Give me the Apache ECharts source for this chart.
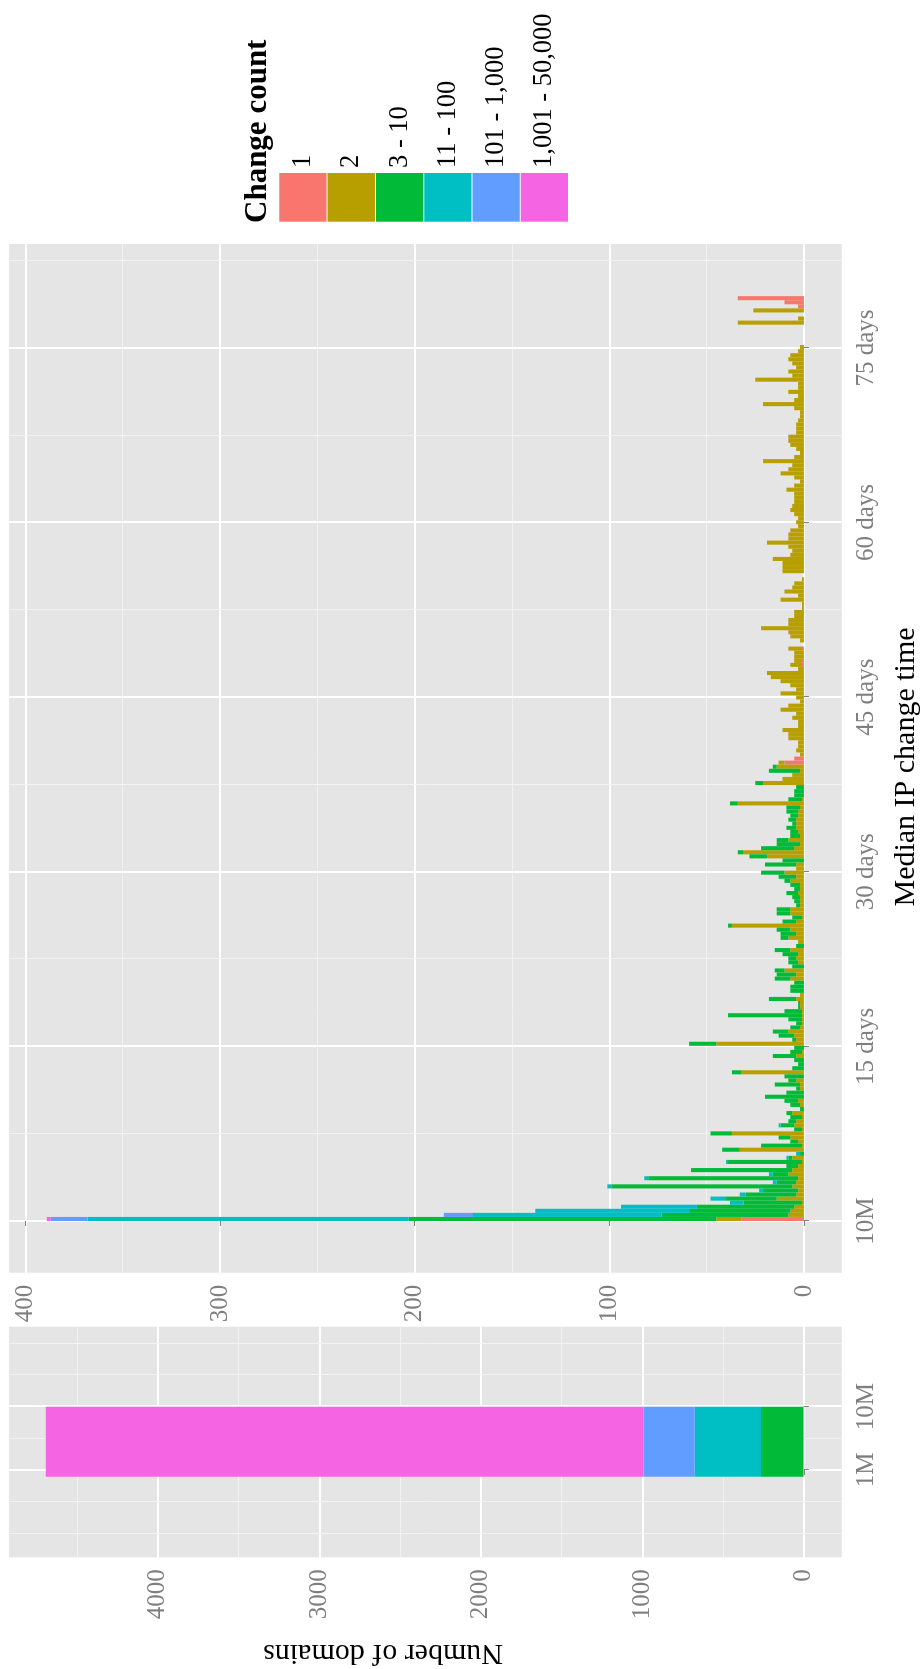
<!DOCTYPE html>
<html>
<head>
<meta charset="utf-8">
<script src="https://cdn.jsdelivr.net/npm/echarts@6/dist/echarts.min.js"></script>
<style>
  html, body { margin: 0; padding: 0; background: #fff; overflow: hidden; }
  #page { position: absolute; left: 0; top: 0; width: 922px; height: 1669px; overflow: hidden; }
  /* The figure is laid out in landscape and turned a quarter turn anticlockwise. */
  #chart { position: absolute; left: 0; top: 0; width: 1669px; height: 922px;
           transform-origin: 0 0; transform: translate(0px, 1669px) rotate(-90deg); }
</style>
</head>
<body>
<div id="page"><div id="chart"></div></div>
<script>
// ---- change-count classes --------------------------------------------------
const levels = ['1', '2', '3 - 10', '11 - 100', '101 - 1,000', '1,001 - 50,000'];
const levelColors = ['#F8766D', '#B79F00', '#00BA38', '#00BFC4', '#619CFF', '#F564E3'];

// ---- panel A: domains whose median change time is under 10 minutes ----------
// x is log10(minutes); the single bin runs from ~47 s to 10 minutes
const shortBinEdges = [-0.106, 1];
const shortCounts = [5, 0, 261, 409, 317, 3701];
const shortTicks = [0, 1];
const shortTickLabels = ['1M', '10M'];

// ---- panel B: 8.4-hour bins of median change time, 10 minutes to ~80 days ---
const binDays = 0.35;
const longTicks = [0, 15, 30, 45, 60, 75];
const longTickLabels = ['10M', '15 days', '30 days', '45 days', '60 days', '75 days'];

const count1 = [
  32,0,0,0,0,0,0,0,0,0,0,0,0,0,0,
  0,0,0,0,0,0,0,0,0,0,0,0,0,0,0,
  0,0,0,0,0,0,0,0,0,0,0,0,0,0,0,
  0,0,0,0,0,0,0,0,0,0,0,0,0,0,0,
  0,0,0,0,0,0,0,0,0,0,0,0,0,0,0,
  0,0,0,0,0,0,0,0,0,0,0,0,0,0,0,
  0,0,0,0,0,0,0,0,0,0,0,0,0,0,0,
  0,0,0,0,0,0,0,10,5,0,0,0,0,0,0,
  0,0,0,0,0,0,0,0,0,0,0,0,0,0,0,
  0,1,1,0,0,1,0,0,0,0,0,0,0,0,0,
  0,0,0,0,0,0,0,0,0,0,0,0,0,0,0,
  0,0,0,0,0,0,0,0,0,0,0,0,0,0,0,
  0,0,0,0,0,0,0,0,0,0,0,0,0,0,0,
  0,0,0,0,0,0,0,0,0,0,0,0,0,0,0,
  0,0,0,0,0,0,0,0,0,0,0,0,0,0,3,
  10,34
];
const count2 = [
  13,8,7,5,1,14,4,3,6,4,3,8,6,3,1,
  6,0,33,1,3,7,37,1,5,4,1,6,0,2,3,
  0,0,2,2,4,0,32,0,0,0,4,1,0,45,4,
  5,8,2,1,1,1,1,2,2,4,2,0,0,0,7,
  4,10,0,3,4,3,7,0,3,8,4,7,37,4,1,
  7,7,2,2,2,3,2,2,7,4,10,4,4,0,19,
  31,5,2,8,2,3,4,4,4,3,3,2,34,1,0,
  0,0,21,11,6,2,14,3,0,2,4,3,3,8,8,
  11,3,3,6,4,12,8,2,4,12,4,7,12,17,19,
  3,6,4,5,5,7,0,2,7,8,22,8,8,5,5,
  1,1,12,3,10,6,5,1,0,11,11,11,16,7,6,
  8,19,8,8,7,3,4,3,5,7,6,5,5,5,9,
  5,2,5,12,8,6,21,5,2,4,7,8,8,4,4,
  4,3,2,2,5,21,5,3,8,3,3,25,6,8,4,
  6,8,7,3,2,0,0,0,0,0,34,3,0,26,0,
  0,0
];
const count3to10 = [
  158,65,52,50,30,26,26,18,93,10,77,8,52,6,38,
  2,2,9,21,4,6,11,4,7,4,6,3,2,5,7,
  20,9,2,13,4,10,5,6,3,5,12,6,5,14,2,
  8,8,5,3,7,38,9,1,1,14,0,7,7,5,8,
  10,5,6,5,4,8,8,4,0,4,8,7,2,7,5,
  7,7,2,3,4,6,3,5,3,9,12,0,16,11,9,
  3,17,12,6,5,4,5,2,4,4,6,7,4,7,5,
  5,4,4,0,0,16,2,0,0,0,0,0,0,0,0,
  0,0,0,0,0,0,0,0,0,0,0,0,0,0,0,
  0,0,0,0,0,0,0,0,0,0,0,0,0,0,0,
  0,0,0,0,0,0,0,0,0,0,0,0,0,0,0,
  0,0,0,0,0,0,0,0,0,0,0,0,0,0,0,
  0,0,0,0,0,0,0,0,0,0,0,0,0,0,0,
  0,0,0,0,0,0,0,0,0,0,0,0,0,0,0,
  0,0,0,0,0,0,0,0,0,0,0,0,0,0,0,
  0,0
];
const count11to100 = [
  165,97,79,39,7,8,3,2,2,2,2,2,0,0,1,
  1,2,0,0,0,0,0,0,1,0,0,0,0,0,0,
  0,0,0,0,0,0,0,0,0,0,0,0,0,0,0,
  0,0,0,0,0,0,0,0,0,0,0,0,0,0,0,
  0,0,0,0,0,0,0,0,0,0,0,0,0,0,0,
  0,0,0,0,0,0,0,0,0,0,0,0,0,0,0,
  0,0,0,0,0,0,0,0,0,0,0,0,0,0,0,
  0,0,0,0,0,0,0,0,0,0,0,0,0,0,0,
  0,0,0,0,0,0,0,0,0,0,0,0,0,0,0,
  0,0,0,0,0,0,0,0,0,0,0,0,0,0,0,
  0,0,0,0,0,0,0,0,0,0,0,0,0,0,0,
  0,0,0,0,0,0,0,0,0,0,0,0,0,0,0,
  0,0,0,0,0,0,0,0,0,0,0,0,0,0,0,
  0,0,0,0,0,0,0,0,0,0,0,0,0,0,0,
  0,0,0,0,0,0,0,0,0,0,0,0,0,0,0,
  0,0
];
const count101to1000 = [
  19,15,0,0,0,0,0,0,0,0,0,0,0,0,0,
  0,0,0,0,0,0,0,0,0,0,0,0,0,0,0,
  0,0,0,0,0,0,0,0,0,0,0,0,0,0,0,
  0,0,0,0,0,0,0,0,0,0,0,0,0,0,0,
  0,0,0,0,0,0,0,0,0,0,0,0,0,0,0,
  0,0,0,0,0,0,0,0,0,0,0,0,0,0,0,
  0,0,0,0,0,0,0,0,0,0,0,0,0,0,0,
  0,0,0,0,0,0,0,0,0,0,0,0,0,0,0,
  0,0,0,0,0,0,0,0,0,0,0,0,0,0,0,
  0,0,0,0,0,0,0,0,0,0,0,0,0,0,0,
  0,0,0,0,0,0,0,0,0,0,0,0,0,0,0,
  0,0,0,0,0,0,0,0,0,0,0,0,0,0,0,
  0,0,0,0,0,0,0,0,0,0,0,0,0,0,0,
  0,0,0,0,0,0,0,0,0,0,0,0,0,0,0,
  0,0,0,0,0,0,0,0,0,0,0,0,0,0,0,
  0,0
];
const count1001plus = [
  2,0,0,0,0,0,0,0,0,0,0,0,0,0,0,
  0,0,0,0,0,0,0,0,0,0,0,0,0,0,0,
  0,0,0,0,0,0,0,0,0,0,0,0,0,0,0,
  0,0,0,0,0,0,0,0,0,0,0,0,0,0,0,
  0,0,0,0,0,0,0,0,0,0,0,0,0,0,0,
  0,0,0,0,0,0,0,0,0,0,0,0,0,0,0,
  0,0,0,0,0,0,0,0,0,0,0,0,0,0,0,
  0,0,0,0,0,0,0,0,0,0,0,0,0,0,0,
  0,0,0,0,0,0,0,0,0,0,0,0,0,0,0,
  0,0,0,0,0,0,0,0,0,0,0,0,0,0,0,
  0,0,0,0,0,0,0,0,0,0,0,0,0,0,0,
  0,0,0,0,0,0,0,0,0,0,0,0,0,0,0,
  0,0,0,0,0,0,0,0,0,0,0,0,0,0,0,
  0,0,0,0,0,0,0,0,0,0,0,0,0,0,0,
  0,0,0,0,0,0,0,0,0,0,0,0,0,0,0,
  0,0
];

// ---- look ------------------------------------------------------------------
const FONT = 'Liberation Serif';
const GREY = '#7F7F7F';
const PANEL = '#E5E5E5';
const MAJOR = '#FFFFFF';
const MINOR = '#F2F2F2';

const gridA = { left: 111.7, top: 9, width: 230.6, height: 832.8 };
const gridB = { left: 396.3, top: 9, width: 1028.7, height: 832.8 };
const xRangeA = [-1.379, 2.264];
const yRangeA = [-235, 4921];
const xRangeB = [-4.44, 83.93];
const yRangeB = [-19.45, 408.4];

function majorAxis(gridIndex, range, ticks, formatter, isX) {
  return {
    type: 'value', gridIndex, min: range[0], max: range[1],
    axisLine: { show: false },
    axisTick: { show: true, customValues: ticks, length: 5, lineStyle: { color: GREY, width: 1 } },
    axisLabel: { show: true, customValues: ticks, formatter, color: GREY,
                 fontFamily: FONT, fontSize: 25, margin: isX ? 12 : 12 },
    splitLine: { show: true, lineStyle: { color: MAJOR, width: 2 } }
  };
}
function minorAxis(gridIndex, range, ticks) {
  return {
    type: 'value', gridIndex, min: range[0], max: range[1],
    axisLine: { show: false },
    axisTick: { show: false, customValues: ticks },
    axisLabel: { show: false, customValues: ticks },
    splitLine: { show: true, lineStyle: { color: MINOR, width: 1 } }
  };
}

const levelCounts = [count1, count2, count3to10, count11to100, count101to1000, count1001plus];
const binCentres = count2.map((_, k) => (k + 0.5) * binDays);

const shortCentre = (shortBinEdges[0] + shortBinEdges[1]) / 2;
const shortBarPx = (shortBinEdges[1] - shortBinEdges[0]) / (xRangeA[1] - xRangeA[0]) * gridA.width;

// data items are [count, x] so the count dimension is the one that stacks
const series = [];
levels.forEach((name, i) => {
  series.push({
    type: 'bar', name, stack: 'short', xAxisIndex: 0, yAxisIndex: 0,
    encode: { x: 1, y: 0 },
    data: [[shortCounts[i], shortCentre]],
    barWidth: shortBarPx,
    itemStyle: { color: levelColors[i] }
  });
});
levels.forEach((name, i) => {
  const vals = levelCounts[i];
  series.push({
    type: 'bar', name, stack: 'long', xAxisIndex: 2, yAxisIndex: 2,
    encode: { x: 1, y: 0 },
    data: binCentres.map((x, k) => [vals[k], x]),
    barWidth: '100%',
    itemStyle: { color: levelColors[i] }
  });
});

const option = {
  animation: false,
  backgroundColor: '#FFFFFF',
  grid: [
    Object.assign({ show: true, backgroundColor: PANEL, borderWidth: 0 }, gridA),
    Object.assign({ show: true, backgroundColor: PANEL, borderWidth: 0 }, gridB)
  ],
  xAxis: [
    majorAxis(0, xRangeA, shortTicks, v => shortTickLabels[shortTicks.indexOf(v)], true),
    minorAxis(0, xRangeA, [-1, -0.5, 0.5, 1.5, 2]),
    majorAxis(1, xRangeB, longTicks, v => longTickLabels[longTicks.indexOf(v)], true),
    minorAxis(1, xRangeB, [7.5, 22.5, 37.5, 52.5, 67.5, 82.5])
  ],
  yAxis: [
    majorAxis(0, yRangeA, [0, 1000, 2000, 3000, 4000], v => String(v), false),
    minorAxis(0, yRangeA, [500, 1500, 2500, 3500, 4500]),
    majorAxis(1, yRangeB, [0, 100, 200, 300, 400], v => String(v), false),
    minorAxis(1, yRangeB, [50, 150, 250, 350])
  ],
  legend: {
    orient: 'vertical', left: 1447.3, top: 279.3, padding: 0,
    itemWidth: 48.7, itemHeight: 47.3, itemGap: 1, icon: 'rect',
    selectedMode: false, data: levels,
    textStyle: { fontFamily: FONT, fontSize: 26.5, color: '#000000' }
  },
  graphic: [
    { type: 'text', x: 16, y: 383, rotation: Math.PI / 2,
      style: { text: 'Number of domains', fill: '#000', font: '30px "Liberation Serif"',
               textAlign: 'center', textVerticalAlign: 'middle' } },
    { type: 'text', x: 902, y: 906,
      style: { text: 'Median IP change time', fill: '#000', font: '30px "Liberation Serif"',
               textAlign: 'center', textVerticalAlign: 'middle' } },
    { type: 'text', x: 1446, y: 258,
      style: { text: 'Change count', fill: '#000', font: 'bold 31px "Liberation Serif"',
               textAlign: 'left', textVerticalAlign: 'middle' } }
  ],
  series
};

const chart = echarts.init(document.getElementById('chart'), null, { renderer: 'canvas', width: 1669, height: 922 });
chart.setOption(option);
</script>
</body>
</html>
